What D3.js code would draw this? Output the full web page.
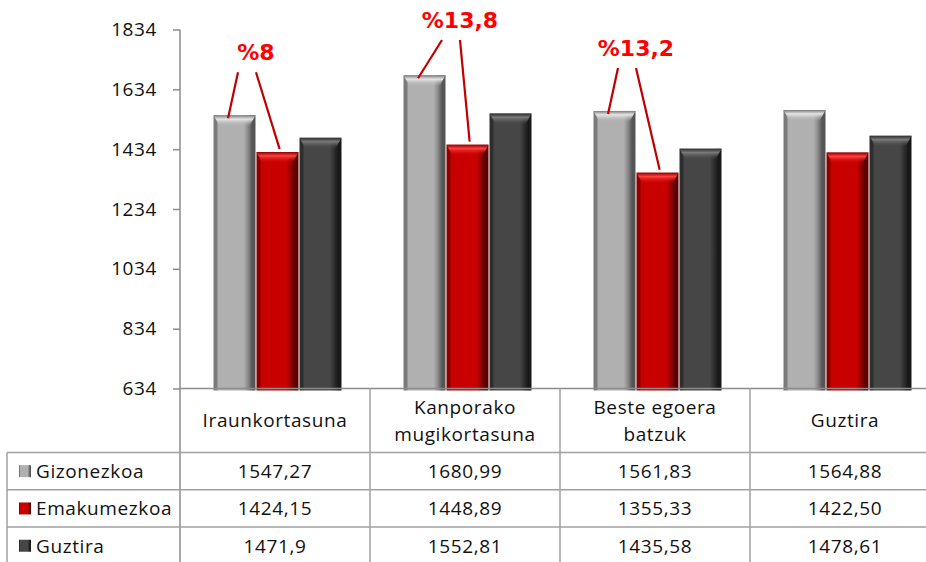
<!DOCTYPE html>
<html>
<head>
<meta charset="utf-8">
<script src="https://cdn.jsdelivr.net/npm/d3@7"></script>
<style>
  body { margin: 0; background: #fff; }
  text { font-family: "Open Sans", sans-serif; }
</style>
</head>
<body>
<div id="chart"></div>
<script>
//chart data
var categories = ["Iraunkortasuna", "Kanporako\nmugikortasuna", "Beste egoera\nbatzuk", "Guztira"];
var series = ["Gizonezkoa", "Emakumezkoa", "Guztira"];
var gizonezkoa = [1547.27, 1680.99, 1561.83, 1564.88];
var emakumezkoa = [1424.15, 1448.89, 1355.33, 1422.50];
var guztira = [1471.9, 1552.81, 1435.58, 1478.61];
var gizonezkoaLabels = ["1547,27", "1680,99", "1561,83", "1564,88"];
var emakumezkoaLabels = ["1424,15", "1448,89", "1355,33", "1422,50"];
var guztiraLabels = ["1471,9", "1552,81", "1435,58", "1478,61"];
var yTicks = [634, 834, 1034, 1234, 1434, 1634, 1834];
var gapLabels = ["%8", "%13,8", "%13,2"];
var gapCategories = [0, 1, 2];

var values = [gizonezkoa, emakumezkoa, guztira];
var labels = [gizonezkoaLabels, emakumezkoaLabels, guztiraLabels];

//setting dimensions and margins
var W = 926, H = 562;
var margin = {top: 29.5, left: 180},
width = 760,
height = 359;
var rowH = 37.3, headH = 64;

var svg = d3.select("#chart")
.append("svg")
.attr("width", W)
.attr("height", H);

//bar colours: [edge, body, right side, dark edge, top highlight]
var palette = [
  ["#7a7a7a", "#b0b0b0", "#8a8a8a", "#555555", "#e6e6e6"],
  ["#8e0000", "#c80000", "#900000", "#5a0000", "#ff4040"],
  ["#2e2e2e", "#464646", "#303030", "#181818", "#7a7a7a"]
];

var defs = svg.append("defs");
palette.forEach(function(p, i) {
  var g = defs.append("linearGradient").attr("id", "side" + i)
    .attr("x1", 0).attr("x2", 1).attr("y1", 0).attr("y2", 0);
  [[0, p[0]], [0.07, p[0]], [0.12, p[1]], [0.72, p[1]], [0.82, p[2]], [0.92, p[3]], [1, p[3]]]
    .forEach(function(s) { g.append("stop").attr("offset", s[0]).attr("stop-color", s[1]); });
  var t = defs.append("linearGradient").attr("id", "top" + i)
    .attr("x1", 0).attr("x2", 0).attr("y1", 0).attr("y2", 1);
  t.append("stop").attr("offset", 0).attr("stop-color", p[0]);
  t.append("stop").attr("offset", 0.35).attr("stop-color", p[4]);
  t.append("stop").attr("offset", 1).attr("stop-color", p[1]).attr("stop-opacity", 0);
});

//scales
var y = d3.scaleLinear().domain([634, 1834]).range([margin.top + height, margin.top]);
var x0 = d3.scaleBand().domain(d3.range(categories.length)).range([margin.left, margin.left + width]);
var x1 = d3.scaleBand().domain(d3.range(series.length)).range([33, 162]);

//y axis
var yAxis = svg.append("g")
  .attr("transform", "translate(" + margin.left + ",0)")
  .call(d3.axisLeft(y).tickValues(yTicks).tickSize(7).tickPadding(16).tickFormat(d3.format("d")));
yAxis.select(".domain").attr("stroke", "#8c8c8c").attr("stroke-width", 1.5)
  .attr("d", "M0," + margin.top + "V" + H);
yAxis.selectAll(".tick line").attr("stroke", "#8c8c8c").attr("stroke-width", 1.5);
yAxis.selectAll(".tick text").attr("font-size", 19).attr("fill", "#111")
  .style("font-family", "Open Sans").attr("letter-spacing", 0.6);

//bars
var groups = svg.selectAll(".grp")
  .data(categories)
  .enter().append("g")
  .attr("transform", function(d, i) { return "translate(" + x0(i) + ",0)"; });

groups.each(function(c, ci) {
  var g = d3.select(this);
  series.forEach(function(s, si) {
    var v = values[si][ci];
    var bx = x1(si) + 0.5, bw = x1.bandwidth() - 1;
    var top = y(v), bot = y(634) + 2;
    g.append("rect")
      .attr("x", bx).attr("y", top).attr("width", bw).attr("height", bot - top)
      .attr("fill", "url(#side" + si + ")");
    g.append("path")
      .attr("d", "M" + bx + "," + top + "H" + (bx + bw) + "L" + (bx + bw - 6) + "," + (top + 11)
        + "H" + (bx + 6) + "Z")
      .attr("fill", "url(#top" + si + ")");
  });
});

//gap annotations
gapCategories.forEach(function(ci, k) {
  var gTop = y(gizonezkoa[ci]), rTop = y(emakumezkoa[ci]);
  var gx = x0(ci) + x1(0), rx = x0(ci) + x1(1);
  var bw = x1.bandwidth();
  var lx = gx + bw + (ci === 1 ? 14 : 0);
  var ly = Math.max(20, gTop - 63);
  svg.append("line")
    .attr("x1", lx - 18).attr("y1", ly + 20)
    .attr("x2", gx + bw * 0.35).attr("y2", gTop + 3)
    .attr("stroke", "#c00000").attr("stroke-width", 2.2);
  svg.append("line")
    .attr("x1", lx).attr("y1", ly + 20)
    .attr("x2", rx + bw * 0.55).attr("y2", rTop - 3)
    .attr("stroke", "#c00000").attr("stroke-width", 2.2);
  svg.append("text")
    .attr("x", lx).attr("y", ly).attr("dy", "0.36em")
    .attr("text-anchor", "middle")
    .style("font-family", "DejaVu Sans").attr("font-weight", "bold")
    .attr("font-size", 22).attr("fill", "#ff0000")
    .text(gapLabels[k]);
});

//data table
var tableTop = y(634);
var lineColor = "#a0a0a0";
var grid = svg.append("g").attr("stroke", lineColor).attr("stroke-width", 1.5);

grid.append("line").attr("x1", margin.left).attr("x2", W).attr("y1", tableTop).attr("y2", tableTop)
  .attr("stroke", "#8c8c8c");
d3.range(series.length).forEach(function(r) {
  var ry = tableTop + headH + r * rowH;
  grid.append("line").attr("x1", 7).attr("x2", W).attr("y1", ry).attr("y2", ry);
});
grid.append("line").attr("x1", 7).attr("x2", 7).attr("y1", tableTop + headH).attr("y2", H);
d3.range(1, categories.length + 1).forEach(function(c) {
  grid.append("line").attr("x1", x0(c) || margin.left + width).attr("x2", x0(c) || margin.left + width)
    .attr("y1", tableTop).attr("y2", H);
});

//header cells
categories.forEach(function(c, ci) {
  var lines = c.split("\n");
  var t = svg.append("text")
    .attr("text-anchor", "middle")
    .attr("font-size", 19).attr("fill", "#111").attr("letter-spacing", 0.6);
  lines.forEach(function(l, li) {
    t.append("tspan")
      .attr("x", x0(ci) + x0.bandwidth() / 2)
      .attr("y", tableTop + headH / 2 + (li - (lines.length - 1) / 2) * 27.5)
      .attr("dy", "0.36em")
      .text(l);
  });
});

//rows: legend key + values
series.forEach(function(s, si) {
  var cy = tableTop + headH + si * rowH + rowH / 2;
  svg.append("rect")
    .attr("x", 19).attr("y", cy - 6).attr("width", 12).attr("height", 12)
    .attr("fill", "url(#side" + si + ")");
  svg.append("text")
    .attr("x", 36).attr("y", cy).attr("dy", "0.36em")
    .attr("font-size", 19).attr("fill", "#111").attr("letter-spacing", 0.6)
    .text(s);
  labels[si].forEach(function(l, ci) {
    svg.append("text")
      .attr("x", x0(ci) + x0.bandwidth() / 2).attr("y", cy).attr("dy", "0.36em")
      .attr("text-anchor", "middle")
      .attr("font-size", 19).attr("fill", "#111").attr("letter-spacing", 0.6)
      .text(l);
  });
});
</script>
</body>
</html>
